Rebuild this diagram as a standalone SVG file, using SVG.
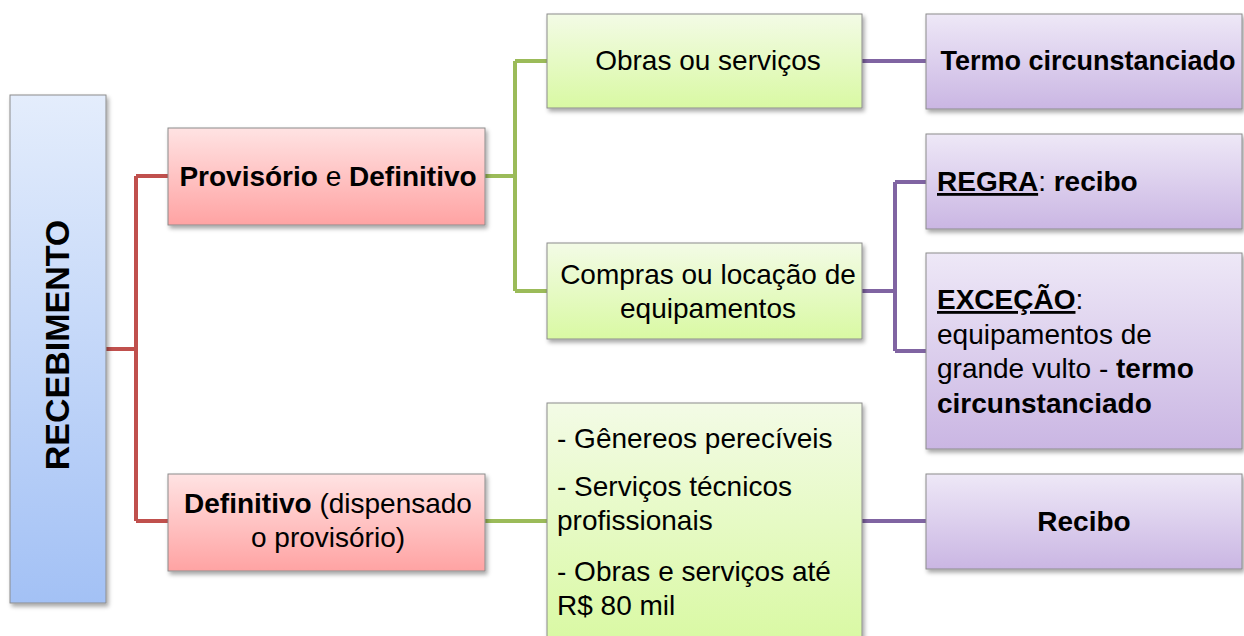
<svg xmlns="http://www.w3.org/2000/svg" width="1244" height="636" viewBox="0 0 1244 636">
<defs>
<linearGradient id="gBlue" x1="0" y1="0" x2="0" y2="1"><stop offset="0" stop-color="#e4edfc"/><stop offset="1" stop-color="#a3c1f5"/></linearGradient>
<linearGradient id="gRed" x1="0" y1="0" x2="0" y2="1"><stop offset="0" stop-color="#ffe3e3"/><stop offset="1" stop-color="#ffa3a3"/></linearGradient>
<linearGradient id="gGreen" x1="0" y1="0" x2="0" y2="1"><stop offset="0" stop-color="#f3fbe6"/><stop offset="1" stop-color="#d9f9a3"/></linearGradient>
<linearGradient id="gPurple" x1="0" y1="0" x2="0" y2="1"><stop offset="0" stop-color="#eee8f7"/><stop offset="1" stop-color="#cab6e3"/></linearGradient>
<filter id="sh" x="-10%" y="-10%" width="130%" height="130%"><feDropShadow dx="2" dy="3" stdDeviation="2" flood-color="#000" flood-opacity="0.35"/></filter>
</defs>
<style>
.box{stroke:#8c8c8c;stroke-width:1;filter:url(#sh)}
.t{font-family:"Liberation Sans",Arial,sans-serif;font-size:28px;fill:#000}
.b{font-weight:bold}
.u{text-decoration:underline}
.c{text-anchor:middle}
.red{stroke:#c0504d;stroke-width:4;fill:none}
.grn{stroke:#9bbb59;stroke-width:4;fill:none}
.pur{stroke:#8064a2;stroke-width:4;fill:none}
</style>
<g id="connectors">
<path class="red" d="M106,349 H136 M136,176 V521 M136,176 H168 M136,521 H168"/>
<path class="grn" d="M485,176 H515 M515,61 V291 M515,61 H547 M515,291 H547 M485,521 H547"/>
<path class="pur" d="M862,61 H926 M862,291 H895 M895,182 V351 M895,182 H926 M895,351 H926 M862,521 H926"/>
</g>
<g id="recebimento">
<rect class="box" x="10" y="95" width="96" height="508" fill="url(#gBlue)"/>
<text class="t b c" transform="translate(57,345) rotate(-90)" dominant-baseline="central" style="font-size:34px">RECEBIMENTO</text>
</g>
<g id="provisorio-definitivo">
<rect class="box" x="168" y="128" width="317" height="97" fill="url(#gRed)"/>
<text class="t c" x="328" y="186"><tspan class="b">Provisório</tspan> e <tspan class="b">Definitivo</tspan></text>
</g>
<g id="definitivo">
<rect class="box" x="168" y="474" width="317" height="97" fill="url(#gRed)"/>
<text class="t c" x="328" y="513"><tspan class="b">Definitivo</tspan> (dispensado</text>
<text class="t c" x="328" y="547">o provisório)</text>
</g>
<g id="obras">
<rect class="box" x="547" y="14" width="315" height="94" fill="url(#gGreen)"/>
<text class="t c" x="708" y="70">Obras ou serviços</text>
</g>
<g id="compras">
<rect class="box" x="547" y="243" width="315" height="96" fill="url(#gGreen)"/>
<text class="t c" x="708" y="284">Compras ou locação de</text>
<text class="t c" x="708" y="318">equipamentos</text>
</g>
<g id="lista">
<rect class="box" x="547" y="403" width="315" height="240" fill="url(#gGreen)"/>
<text class="t" x="557" y="448">- Gênereos perecíveis</text>
<text class="t" x="557" y="496">- Serviços técnicos</text>
<text class="t" x="557" y="530">profissionais</text>
<text class="t" x="557" y="581">- Obras e serviços até</text>
<text class="t" x="557" y="615">R$ 80 mil</text>
</g>
<g id="termo">
<rect class="box" x="926" y="14" width="316" height="95" fill="url(#gPurple)"/>
<text class="t b c" x="1088" y="70" style="font-size:27px">Termo circunstanciado</text>
</g>
<g id="regra">
<rect class="box" x="926" y="134" width="316" height="95" fill="url(#gPurple)"/>
<text class="t" x="937" y="191"><tspan class="b u">REGRA</tspan>: <tspan class="b">recibo</tspan></text>
</g>
<g id="excecao">
<rect class="box" x="926" y="253" width="316" height="196" fill="url(#gPurple)"/>
<text class="t" x="937" y="309"><tspan class="b u">EXCEÇÃO</tspan>:</text>
<text class="t" x="937" y="344">equipamentos de</text>
<text class="t" x="937" y="378">grande vulto - <tspan class="b">termo</tspan></text>
<text class="t b" x="937" y="413">circunstanciado</text>
</g>
<g id="recibo">
<rect class="box" x="926" y="474" width="316" height="95" fill="url(#gPurple)"/>
<text class="t b c" x="1084" y="531">Recibo</text>
</g>
</svg>
